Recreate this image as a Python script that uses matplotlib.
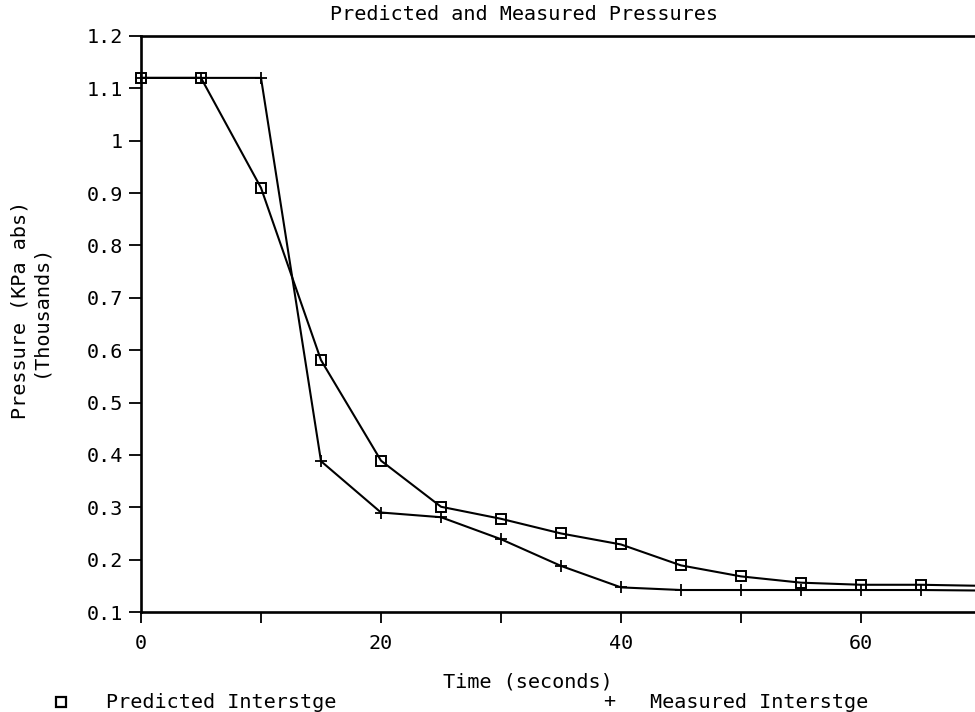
import matplotlib
matplotlib.use("Agg")
import matplotlib.pyplot as plt
from matplotlib.ticker import FixedLocator

# data
time_s = [0, 5, 10, 15, 20, 25, 30, 35, 40, 45, 50, 55, 60, 65, 70]
predicted = [1.12, 1.12, 0.91, 0.581, 0.389, 0.301, 0.278, 0.250, 0.229, 0.189, 0.168, 0.156, 0.152, 0.152, 0.150]
measured = [1.12, 1.12, 1.12, 0.388, 0.290, 0.281, 0.239, 0.188, 0.147, 0.142, 0.142, 0.142, 0.142, 0.142, 0.141]

y_ticks = [0.1, 0.2, 0.3, 0.4, 0.5, 0.6, 0.7, 0.8, 0.9, 1.0, 1.1, 1.2]
y_labels = ['0.1', '0.2', '0.3', '0.4', '0.5', '0.6', '0.7', '0.8', '0.9', '1', '1.1', '1.2']
x_major = [0, 20, 40, 60]
x_minor = [10, 30, 50]

plt.rcParams['font.family'] = ['DejaVu Sans Mono']
fs = 14.5

fig = plt.figure(figsize=(9.75, 7.12), dpi=100)
ax = fig.add_axes([141 / 975, 1 - 612 / 712, 1 - 141 / 975, (612 - 36) / 712])

ax.plot(time_s, predicted, color='black', lw=1.5, marker='s', ms=7.5,
        mfc='none', mec='black', mew=1.4, clip_on=False)
ax.plot(time_s, measured, color='black', lw=1.5, marker='+', ms=9,
        mew=1.3, clip_on=False)

ax.set_xlim(0, 69.5)
ax.set_ylim(0.1, 1.2)

ax.set_yticks(y_ticks)
ax.set_yticklabels(y_labels, fontsize=fs)
ax.set_xticks(x_major)
ax.set_xticklabels([str(v) for v in x_major], fontsize=fs)
ax.xaxis.set_minor_locator(FixedLocator(x_minor))
ax.tick_params(axis='y', which='major', direction='out', length=9, width=1.3, pad=4)
ax.tick_params(axis='x', which='major', direction='out', length=8, width=1.3, pad=8)
ax.tick_params(axis='x', which='minor', direction='out', length=8, width=1.3)

for side in ['top', 'bottom', 'left']:
    ax.spines[side].set_linewidth(1.9)
ax.spines['right'].set_visible(False)

fig.text(528 / 975, 1 - 682 / 712, 'Time (seconds)', ha='center', va='center', fontsize=fs)
fig.text(524 / 975, 1 - 14 / 712, 'Predicted and Measured Pressures', ha='center', va='center', fontsize=fs)
fig.text(30 / 975, 1 - 310 / 712, 'Pressure (KPa abs)\n(Thousands)', ha='center', va='center',
         rotation=90, fontsize=fs, linespacing=1.0)

# legend row under the axis title
fig.lines.append(plt.Line2D([61 / 975], [1 - 702 / 712], transform=fig.transFigure,
                            marker='s', ms=7, mfc='none', mec='black', mew=1.6, ls='none'))
fig.text(106 / 975, 1 - 702 / 712, 'Predicted Interstge', ha='left', va='center', fontsize=fs)
fig.text(609 / 975, 1 - 702 / 712, '+', ha='center', va='center', fontsize=fs)
fig.text(650 / 975, 1 - 702 / 712, 'Measured Interstge', ha='left', va='center', fontsize=fs)

fig.savefig('out.png', dpi=100)
